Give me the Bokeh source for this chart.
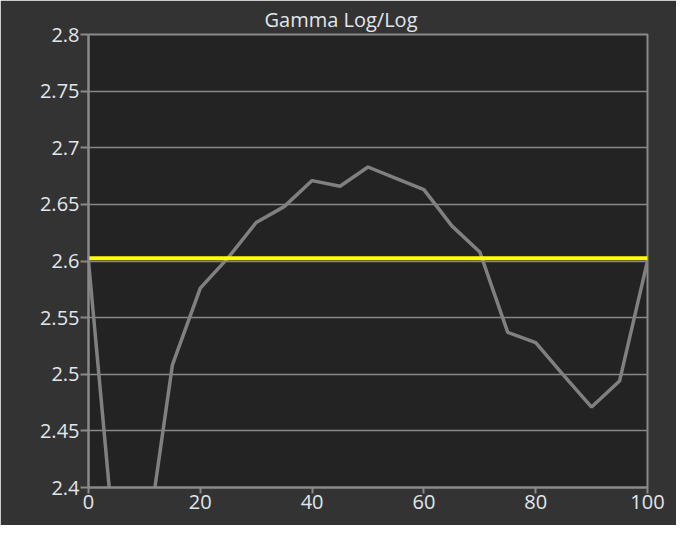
from bokeh.plotting import figure
from bokeh.models import Range1d, FixedTicker
from bokeh.embed import file_html
from bokeh.resources import INLINE

# Data
x_vals = [0, 5, 10, 15, 20, 25, 30, 35, 40, 45, 50, 55, 60, 65, 70, 75, 80, 85, 90, 95, 100]
gamma = [2.600, 2.330, 2.335, 2.508, 2.576, 2.603, 2.634, 2.648, 2.671, 2.666, 2.683,
         2.673, 2.663, 2.631, 2.608, 2.537, 2.528, 2.499, 2.471, 2.494, 2.600]
target_x = [0, 100]
target_gamma = [2.6025, 2.6025]
y_ticks = [2.4, 2.45, 2.5, 2.55, 2.6, 2.65, 2.7, 2.75, 2.8]
y_tick_labels = ["2.4", "2.45", "2.5", "2.55", "2.6", "2.65", "2.7", "2.75", "2.8"]
x_ticks = [0, 20, 40, 60, 80, 100]

FONT = "Open Sans"
LABEL_COLOR = "#e2e6ea"
FRAME_COLOR = "#8a8a8a"

p = figure(width=676, height=525, output_backend="svg", toolbar_location=None,
           x_range=Range1d(0, 100), y_range=Range1d(2.4, 2.8),
           title="Gamma Log/Log",
           min_border_left=88, min_border_right=29, min_border_top=34, min_border_bottom=38)

p.border_fill_color = "#333333"
p.background_fill_color = "#232323"
p.outline_line_color = FRAME_COLOR
p.outline_line_width = 2

p.title.align = "left"
p.title.offset = 176
p.title.standoff = 4
p.title.text_font = FONT
p.title.text_font_size = "20px"
p.title.text_font_style = "normal"
p.title.text_color = LABEL_COLOR

p.xaxis.ticker = FixedTicker(ticks=x_ticks)
p.yaxis.ticker = FixedTicker(ticks=y_ticks)
p.yaxis.major_label_overrides = dict(zip(y_ticks, y_tick_labels))

for ax in (p.xaxis, p.yaxis):
    ax.axis_line_color = FRAME_COLOR
    ax.axis_line_width = 2
    ax.major_tick_line_color = FRAME_COLOR
    ax.major_tick_line_width = 2
    ax.major_tick_in = 0
    ax.minor_tick_line_color = None
    ax.major_label_text_color = LABEL_COLOR
    ax.major_label_text_font = FONT
    ax.major_label_text_font_size = "20px"
    ax.major_label_standoff = 1

p.xaxis.major_tick_out = 6
p.yaxis.major_tick_out = 8

p.xgrid.visible = False
p.ygrid.grid_line_color = "#888888"
p.ygrid.grid_line_width = 1.5

p.line(x_vals, gamma, line_color="#808080", line_width=3.5)
p.line(target_x, target_gamma, line_color="#ffff00", line_width=4)

open("out.html", "w").write(file_html(p, INLINE))
